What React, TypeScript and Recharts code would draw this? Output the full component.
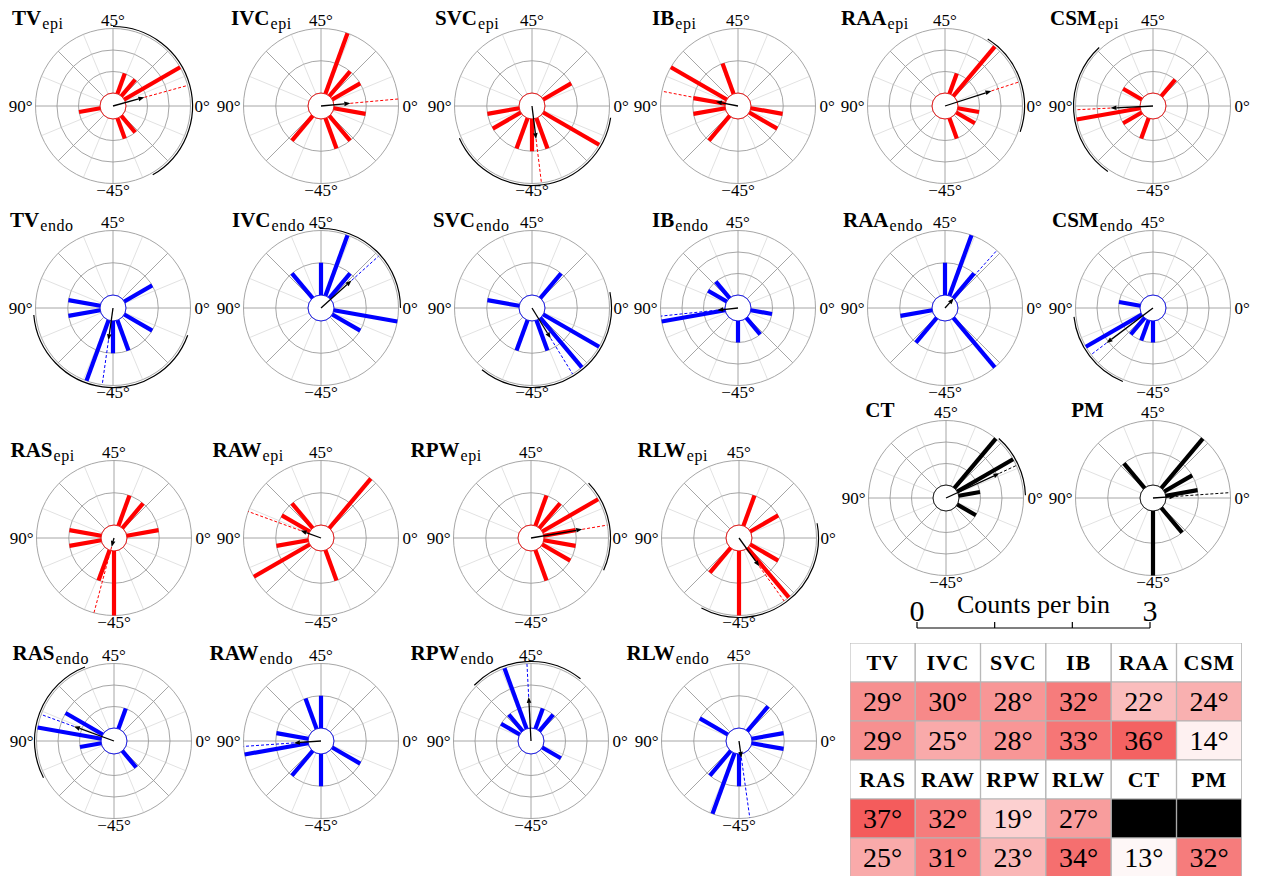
import React from 'react';
import {
  RadarChart,
  PolarGrid,
  PolarAngleAxis,
  PolarRadiusAxis,
  Radar,
  BarChart,
  Bar,
  XAxis,
  YAxis,
  ComposedChart,
} from 'recharts';

// ---------------- DATA ----------------
const binCenters = [-85, -75, -65, -55, -45, -35, -25, -15, -5, 5, 15, 25, 35, 45, 55, 65, 75, 85];

const tvEpiCounts = [1, 0, 0, 0, 0, 1, 1, 0, 0, 0, 3, 1, 1, 0, 0, 0, 0, 0];
const ivcEpiCounts = [0, 0, 1, 0, 0, 1, 1, 0, 1, 0, 1, 1, 2, 0, 0, 0, 0, 0];
const svcEpiCounts = [1, 1, 0, 1, 1, 1, 0, 2, 0, 0, 1, 0, 0, 0, 0, 0, 0, 0];
const ibEpiCounts = [1, 0, 1, 0, 0, 0, 0, 1, 1, 0, 0, 0, 0, 0, 1, 0, 2, 1];
const raaEpiCounts = [0, 0, 0, 0, 0, 1, 0, 1, 1, 0, 0, 3, 1, 0, 0, 0, 0, 0];
const csmEpiCounts = [3, 1, 0, 1, 0, 0, 0, 0, 0, 0, 0, 1, 0, 0, 0, 0, 1, 0];

const tvEndoCounts = [1, 0, 0, 2, 1, 1, 0, 1, 0, 0, 1, 0, 0, 0, 0, 0, 0, 1];
const ivcEndoCounts = [0, 0, 0, 0, 0, 0, 0, 1, 2, 0, 0, 1, 2, 1, 0, 1, 0, 0];
const svcEndoCounts = [0, 0, 0, 1, 0, 1, 2, 2, 0, 0, 0, 1, 0, 0, 0, 0, 0, 1];
const ibEndoCounts = [3, 0, 0, 0, 1, 0, 1, 0, 1, 0, 0, 0, 0, 0, 0, 1, 1, 0];
const raaEndoCounts = [1, 0, 1, 0, 0, 0, 2, 0, 0, 0, 0, 1, 2, 1, 0, 0, 0, 0];
const csmEndoCounts = [0, 3, 1, 1, 1, 0, 0, 0, 0, 0, 0, 0, 0, 0, 0, 0, 0, 1];

const rasEpiCounts = [1, 0, 0, 1, 2, 0, 0, 0, 0, 1, 0, 1, 1, 0, 0, 0, 0, 1];
const rawEpiCounts = [1, 2, 0, 0, 0, 1, 0, 0, 0, 0, 0, 2, 0, 0, 0, 1, 1, 0];
const rpwEpiCounts = [0, 0, 0, 0, 0, 1, 0, 1, 1, 1, 2, 1, 1, 0, 0, 0, 0, 0];
const rlwEpiCounts = [0, 0, 1, 0, 2, 0, 2, 1, 0, 0, 1, 0, 1, 0, 0, 0, 0, 0];

const rasEndoCounts = [1, 0, 0, 0, 0, 0, 1, 0, 0, 0, 0, 0, 1, 0, 0, 0, 2, 3];
const rawEndoCounts = [2, 0, 1, 0, 1, 0, 0, 1, 0, 0, 0, 0, 0, 1, 1, 0, 0, 1];
const rpwEndoCounts = [0, 0, 0, 0, 0, 0, 0, 1, 0, 0, 0, 1, 1, 0, 3, 1, 1, 0];
const rlwEndoCounts = [0, 0, 1, 2, 1, 0, 0, 0, 1, 1, 0, 1, 0, 0, 0, 0, 1, 0];

const ctCounts = [0, 0, 0, 0, 0, 0, 0, 1, 0, 1, 3, 3, 0, 0, 0, 0, 0, 0];
const pmCounts = [0, 0, 0, 0, 2, 0, 1, 0, 0, 1, 1, 2, 0, 0, 0, 1, 0, 0];

const regionsA = ['TV', 'IVC', 'SVC', 'IB', 'RAA', 'CSM'];
const regionsB = ['RAS', 'RAW', 'RPW', 'RLW'];
const regionsC = ['CT', 'PM'];

const epiMaxA = [3, 2, 2, 2, 3, 3];
const endoMaxA = [2, 2, 2, 3, 2, 3];
const epiMaxB = [2, 2, 2, 2];
const endoMaxB = [3, 2, 3, 2];
const maxC = [3, 2];

const epiMeanA = [7.7, 2.6, -41.5, 84.5, 9, -88.6];
const epiRA = [0.42, 0.38, 0.43, 0.29, 0.63, 0.55];
const endoMeanA = [-49, 21, -29.2, -87, 24, -71.5];
const endoRA = [0.42, 0.53, 0.46, 0.27, 0.17, 0.75];
const epiMeanB = [-52.5, 80, 4.8, -27.2];
const epiRB = [0.12, 0.28, 0.67, 0.45];
const endoMeanB = [80, -88, 46.5, -41];
const endoRB = [0.55, 0.35, 0.57, 0.22];
const meanC = [12.4, 2];
const rC = [0.76, 0.29];

const epiArcA: (number[] | null)[] = [[-30, 45], null, [-78, -4.25], null, [-9.5, 28.75], [66.3, 117.7]];
const endoArcA: (number[] | null)[] = [[-87.5, -10], [0, 45.5], [-64.5, 5.75], null, null, [-86.8, -56.15]];
const epiArcB: (number[] | null)[] = [null, null, [-12, 21.8], [-59.1, 5.35]];
const endoArcB: (number[] | null)[] = [[55.7, 103.75], null, [25.75, 67.75], null];
const arcC: (number[] | null)[] = [[1, 24.2], null];

const tableNames1 = ['TV', 'IVC', 'SVC', 'IB', 'RAA', 'CSM'];
const tableEpi1 = [29, 30, 28, 32, 22, 24];
const tableEndo1 = [29, 25, 28, 33, 36, 14];
const tableNames2 = ['RAS', 'RAW', 'RPW', 'RLW', 'CT', 'PM'];
const tableEpi2: (number | null)[] = [37, 32, 19, 27, null, null];
const tableEndo2 = [25, 31, 23, 34, 13, 32];

const scaleTicks = [0, 1, 2, 3];

// ---------------- LAYOUT / STYLE ----------------
const FONT = "'Liberation Serif', 'Times New Roman', Times, 'DejaVu Serif', serif";
const FS = { fontFamily: FONT } as React.CSSProperties;
const OUTER = 77.5;
const INNER = 13;
const W = 240;
const H = 220;
const LABEL_FS = 17;
const lightAngles = [22.5, 67.5, 112.5, 157.5, 202.5, 247.5, 292.5, 337.5];
const darkAngles = [0, 45, 90, 135, 180, 225, 270, 315];

const colCxA = [113, 321, 532, 738, 945, 1153];
const titleXEpiA = [12, 231, 435, 652, 841, 1050];
const titleXEndoA = [10, 232, 433, 652, 843, 1052];
const colCxB = [113.5, 320.5, 530.5, 738.5];
const titleXEpiB = [10, 212, 410, 637];
const titleXEndoB = [12, 209, 410, 626];
const cxC = [945.7, 1152.7];
const titleXC = [865, 1071];
const rowCy = [105.5, 307.7, 538.3, 741, 497.7];

type Spec = {
  name: string;
  sub: string;
  counts: number[];
  max: number;
  mean: number;
  R: number;
  arc: number[] | null;
  color: string;
  cx: number;
  cy: number;
  tx: number;
};

const countsA = {
  epi: [tvEpiCounts, ivcEpiCounts, svcEpiCounts, ibEpiCounts, raaEpiCounts, csmEpiCounts],
  endo: [tvEndoCounts, ivcEndoCounts, svcEndoCounts, ibEndoCounts, raaEndoCounts, csmEndoCounts],
};
const countsB = {
  epi: [rasEpiCounts, rawEpiCounts, rpwEpiCounts, rlwEpiCounts],
  endo: [rasEndoCounts, rawEndoCounts, rpwEndoCounts, rlwEndoCounts],
};
const countsC = [ctCounts, pmCounts];

const specs: Spec[] = [];
regionsA.forEach((n, i) => {
  specs.push({ name: n, sub: 'epi', counts: countsA.epi[i], max: epiMaxA[i], mean: epiMeanA[i], R: epiRA[i], arc: epiArcA[i], color: '#ff0000', cx: colCxA[i], cy: rowCy[0], tx: titleXEpiA[i] });
  specs.push({ name: n, sub: 'endo', counts: countsA.endo[i], max: endoMaxA[i], mean: endoMeanA[i], R: endoRA[i], arc: endoArcA[i], color: '#0000ff', cx: colCxA[i], cy: rowCy[1], tx: titleXEndoA[i] });
});
regionsB.forEach((n, i) => {
  specs.push({ name: n, sub: 'epi', counts: countsB.epi[i], max: epiMaxB[i], mean: epiMeanB[i], R: epiRB[i], arc: epiArcB[i], color: '#ff0000', cx: colCxB[i], cy: rowCy[2], tx: titleXEpiB[i] });
  specs.push({ name: n, sub: 'endo', counts: countsB.endo[i], max: endoMaxB[i], mean: endoMeanB[i], R: endoRB[i], arc: endoArcB[i], color: '#0000ff', cx: colCxB[i], cy: rowCy[3], tx: titleXEndoB[i] });
});
regionsC.forEach((n, i) => {
  specs.push({ name: n, sub: '', counts: countsC[i], max: maxC[i], mean: meanC[i], R: rC[i], arc: arcC[i], color: '#000000', cx: cxC[i], cy: rowCy[4], tx: titleXC[i] });
});

const toXY = (cx: number, cy: number, r: number, deg: number) => {
  const a = (deg * Math.PI) / 180;
  return { x: cx + r * Math.cos(a), y: cy - r * Math.sin(a) };
};

function RoseShape(props: any) {
  const { points, spec } = props as { points: any[]; spec: Spec };
  if (!points || points.length === 0) return null;
  const cx = points[0].cx;
  const cy = points[0].cy;
  const col = spec.color;
  const md = 2 * spec.mean;
  const rTip = spec.R * OUTER;
  const tip = toXY(cx, cy, rTip, md);
  const edge = toXY(cx, cy, OUTER, md);
  const back = toXY(cx, cy, Math.max(rTip - 6, 0), md);
  const perp = ((md + 90) * Math.PI) / 180;
  const nx = Math.cos(perp) * 2.3;
  const ny = -Math.sin(perp) * 2.3;
  let arcPath: string | null = null;
  if (spec.arc) {
    const a1 = 2 * spec.arc[0];
    const a2 = 2 * spec.arc[1];
    const rr = OUTER + 2;
    const s = toXY(cx, cy, rr, a1);
    const e = toXY(cx, cy, rr, a2);
    const large = a2 - a1 > 180 ? 1 : 0;
    arcPath = `M ${s.x} ${s.y} A ${rr} ${rr} 0 ${large} 0 ${e.x} ${e.y}`;
  }
  const tdx = spec.tx - spec.cx;
  return (
    <g>
      {points
        .filter((p) => p.value > 0)
        .map((p, i) => {
          const s = toXY(cx, cy, INNER, p.angle);
          return <line key={i} x1={s.x} y1={s.y} x2={p.x} y2={p.y} stroke={col} strokeWidth={4.2} />;
        })}
      <circle cx={cx} cy={cy} r={INNER} fill="none" stroke={col} strokeWidth={0.8} />
      <line x1={tip.x} y1={tip.y} x2={edge.x} y2={edge.y} stroke={col} strokeWidth={1} strokeDasharray="3 2" />
      <line x1={cx} y1={cy} x2={back.x} y2={back.y} stroke="#000" strokeWidth={1.3} />
      <polygon points={`${tip.x},${tip.y} ${back.x + nx},${back.y + ny} ${back.x - nx},${back.y - ny}`} fill="#000" />
      {arcPath && <path d={arcPath} fill="none" stroke="#000" strokeWidth={1.2} />}
      <text x={cx} y={cy - OUTER - 3} textAnchor="middle" fontSize={LABEL_FS} style={FS} fill="#000">45°</text>
      <text x={cx + OUTER + 4} y={cy + 6} textAnchor="start" fontSize={LABEL_FS} style={FS} fill="#000">0°</text>
      <text x={cx - OUTER - 3} y={cy + 6} textAnchor="end" fontSize={LABEL_FS} style={FS} fill="#000">90°</text>
      <text x={cx} y={cy + OUTER + 12} textAnchor="middle" fontSize={LABEL_FS} style={FS} fill="#000">−45°</text>
      <text x={cx + tdx} y={cy - 81} style={FS} fill="#000">
        <tspan fontWeight="bold" fontSize={21}>{spec.name}</tspan>
        {spec.sub ? (
          <tspan fontSize={16} dx={1} dy={4} letterSpacing={0.6}>{spec.sub}</tspan>
        ) : null}
      </text>
    </g>
  );
}

function Rose({ spec }: { spec: Spec }) {
  const data = binCenters
    .map((b, j) => ({ bin: b, count: spec.counts[j] }))
    .reverse();
  return (
    <div style={{ position: 'absolute', left: spec.cx - W / 2, top: spec.cy - H / 2, width: W, height: H }}>
      <RadarChart
        width={W}
        height={H}
        data={data}
        cx={W / 2}
        cy={H / 2}
        innerRadius={INNER}
        outerRadius={OUTER}
        startAngle={170}
        endAngle={-190}
        margin={{ top: 0, right: 0, bottom: 0, left: 0 }}
      >
        <PolarGrid gridType="circle" polarAngles={lightAngles} polarRadius={[]} stroke="#e2e2e2" strokeWidth={1} />
        <PolarGrid gridType="circle" polarAngles={darkAngles} stroke="#9c9c9c" strokeWidth={0.9} />
        <PolarAngleAxis dataKey="bin" tick={false} axisLine={false} tickLine={false} />
        <PolarRadiusAxis
          type="number"
          domain={[0, spec.max]}
          tickCount={spec.max + 1}
          allowDecimals={false}
          tick={false}
          axisLine={false}
          tickLine={false}
        />
        <Radar
          dataKey="count"
          isAnimationActive={false}
          fill="none"
          stroke="none"
          shape={(p: any) => <RoseShape {...p} spec={spec} />}
        />
      </RadarChart>
    </div>
  );
}

// ---------------- TABLE ----------------
const tableRows: { kind: 'head' | 'val'; items: (string | number | null)[] }[] = [
  { kind: 'head', items: tableNames1 },
  { kind: 'val', items: tableEpi1 },
  { kind: 'val', items: tableEndo1 },
  { kind: 'head', items: tableNames2 },
  { kind: 'val', items: tableEpi2 },
  { kind: 'val', items: tableEndo2 },
];
const tableData = tableNames1.map((_, i) => ({ col: i, r0: 1, r1: 1, r2: 1, r3: 1, r4: 1, r5: 1 }));

const heat = (v: number) => {
  const t = Math.max(0, Math.min(1, (v - 13) / 24));
  const g = Math.round(247 - 155 * t);
  const r = Math.round(254 - 10 * t);
  return `rgb(${r},${g},${g})`;
};

function makeCellShape(k: number) {
  return (p: any) => {
    const row = tableRows[k];
    const item = row.items[p.index];
    let fill = '#ffffff';
    let label = '';
    if (row.kind === 'head') {
      label = String(item);
    } else if (item === null || item === undefined) {
      fill = '#000000';
    } else {
      fill = heat(item as number);
      label = `${item}°`;
    }
    const isHead = row.kind === 'head';
    const y0 = Math.min(p.y, p.y + p.height);
    const h = Math.abs(p.height);
    const x0 = Math.min(p.x, p.x + p.width);
    const w = Math.abs(p.width);
    return (
      <g>
        <rect x={x0} y={y0} width={w} height={h} fill={fill} stroke="#b4b4b4" strokeWidth={1} />
        {label && (
          <text
            x={x0 + w / 2}
            y={y0 + h / 2 + (isHead ? 7 : 9)}
            textAnchor="middle"
            style={FS}
            fontWeight={isHead ? 'bold' : 'normal'}
            fontSize={isHead ? 22 : 28}
            letterSpacing={isHead ? 0.8 : 0}
            fill="#000"
          >
            {label}
          </text>
        )}
      </g>
    );
  };
}

function Table() {
  return (
    <div style={{ position: 'absolute', left: 850, top: 643, width: 392, height: 234 }}>
      <BarChart
        width={392}
        height={234}
        data={tableData}
        margin={{ top: 0, right: 0, bottom: 0, left: 0 }}
        barCategoryGap={0}
        barGap={0}
      >
        <XAxis dataKey="col" type="category" hide />
        <YAxis type="number" domain={[0, 6]} reversed hide />
        {tableRows.map((_, k) => (
          <Bar key={k} dataKey={`r${k}`} stackId="t" isAnimationActive={false} shape={makeCellShape(k)} />
        ))}
      </BarChart>
    </div>
  );
}

// ---------------- SCALE BAR ----------------
function ScaleBar() {
  return (
    <div style={{ position: 'absolute', left: 897.3, top: 590, width: 273, height: 50 }}>
      <ComposedChart
        width={273}
        height={50}
        data={scaleTicks.map((t) => ({ x: t }))}
        margin={{ top: 8, right: 20, bottom: 0, left: 20 }}
      >
        <XAxis
          dataKey="x"
          type="number"
          orientation="top"
          domain={[0, 3]}
          ticks={scaleTicks}
          height={30}
          tickSize={6}
          tickMargin={1}
          tickFormatter={(v: number) => (v === 0 || v === 3 ? String(v) : '')}
          tick={{ fontSize: 30, fontFamily: FONT, fill: '#000', style: FS }}
          stroke="#000"
          axisLine={{ stroke: '#000', strokeWidth: 1.2 }}
          tickLine={{ stroke: '#000', strokeWidth: 1.2 }}
          label={(lp: any) => {
            const vb = lp.viewBox || { x: 20, y: 8, width: 233, height: 30 };
            return (
              <text x={vb.x + vb.width / 2} y={vb.y + 15} textAnchor="middle" fontSize={26} style={FS} fill="#000">
                Counts per bin
              </text>
            );
          }}
        />
      </ComposedChart>
    </div>
  );
}

export default function App() {
  return (
    <div
      style={{
        position: 'absolute',
        left: 0,
        top: 0,
        width: 1263,
        height: 876,
        overflow: 'hidden',
        background: '#fff',
        fontFamily: FONT,
      }}
    >
      {specs.map((s, i) => (
        <Rose key={i} spec={s} />
      ))}
      <ScaleBar />
      <Table />
    </div>
  );
}
